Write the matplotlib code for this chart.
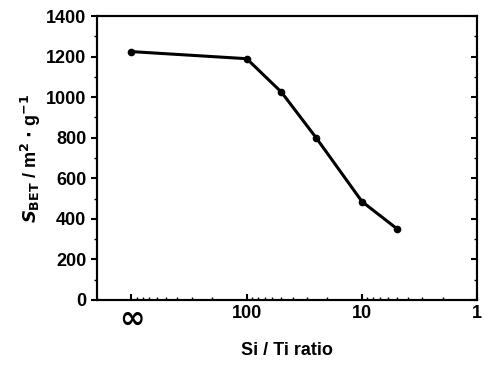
import numpy as np
import matplotlib
matplotlib.use("Agg")
import matplotlib.pyplot as plt
from matplotlib.ticker import FixedLocator, LogLocator, MultipleLocator, NullFormatter

# Data (Si/Ti ratio; "inf" = pure silica, drawn at the ∞ tick position)
si_ti_ratio = [np.inf, 100, 50, 25, 10, 5]
s_bet = [1225, 1190, 1025, 800, 485, 352]
x_tick_values = [1000, 100, 10, 1]
x_tick_labels = ["∞", "100", "10", "1"]
y_ticks = [0, 200, 400, 600, 800, 1000, 1200, 1400]

INF_POS = 1000
xpos = [INF_POS if np.isinf(r) else r for r in si_ti_ratio]

plt.rcParams['font.family'] = ['Liberation Sans', 'DejaVu Sans']
plt.rcParams['font.weight'] = 'bold'

fig = plt.figure(figsize=(4.84, 3.67), dpi=100)
ax = fig.add_axes([0.200, 0.183, 0.786, 0.773])

ax.plot(xpos, s_bet, color='black', lw=2.2, marker='o', ms=4.5,
        markerfacecolor='black', zorder=3)

ax.set_xscale('log')
ax.set_xlim(2000, 1)
ax.set_ylim(0, 1400)

ax.xaxis.set_major_locator(FixedLocator(x_tick_values))
ax.set_xticklabels(x_tick_labels)
ax.xaxis.set_minor_locator(LogLocator(base=10, subs=np.arange(2, 10)))
ax.xaxis.set_minor_formatter(NullFormatter())
ax.set_yticks(y_ticks)
ax.yaxis.set_minor_locator(MultipleLocator(100))

ax.tick_params(axis='both', which='major', labelsize=13, width=1.5, length=4)
ax.tick_params(axis='y', which='both', direction='out', right=False)
ax.tick_params(axis='x', which='both', direction='in', top=False)
ax.tick_params(axis='y', which='minor', length=2, width=1)
ax.tick_params(axis='x', which='minor', length=2.5, width=1)
for lbl in ax.get_xticklabels():
    if lbl.get_text() == "∞":
        lbl.set_fontsize(22)
        lbl.set_fontfamily('DejaVu Sans')

# right-side inward ticks
ax2 = ax.twinx()
ax2.set_ylim(ax.get_ylim())
ax2.set_yticks(y_ticks)
ax2.yaxis.set_minor_locator(MultipleLocator(100))
ax2.tick_params(axis='y', which='both', direction='in', labelright=False)
ax2.tick_params(axis='y', which='major', length=4, width=1.5)
ax2.tick_params(axis='y', which='minor', length=2, width=1)

for a in (ax, ax2):
    for s in a.spines.values():
        s.set_linewidth(1.5)

ax.set_xlabel("Si / Ti ratio", fontsize=13, fontweight='bold', labelpad=6)
ax.set_ylabel(r"$S_{\mathbf{BET}}$ / m$^{2}$ $\cdot$ g$^{-1}$", fontsize=13,
              fontweight='bold', labelpad=2)

fig.savefig("out.png", dpi=100)
